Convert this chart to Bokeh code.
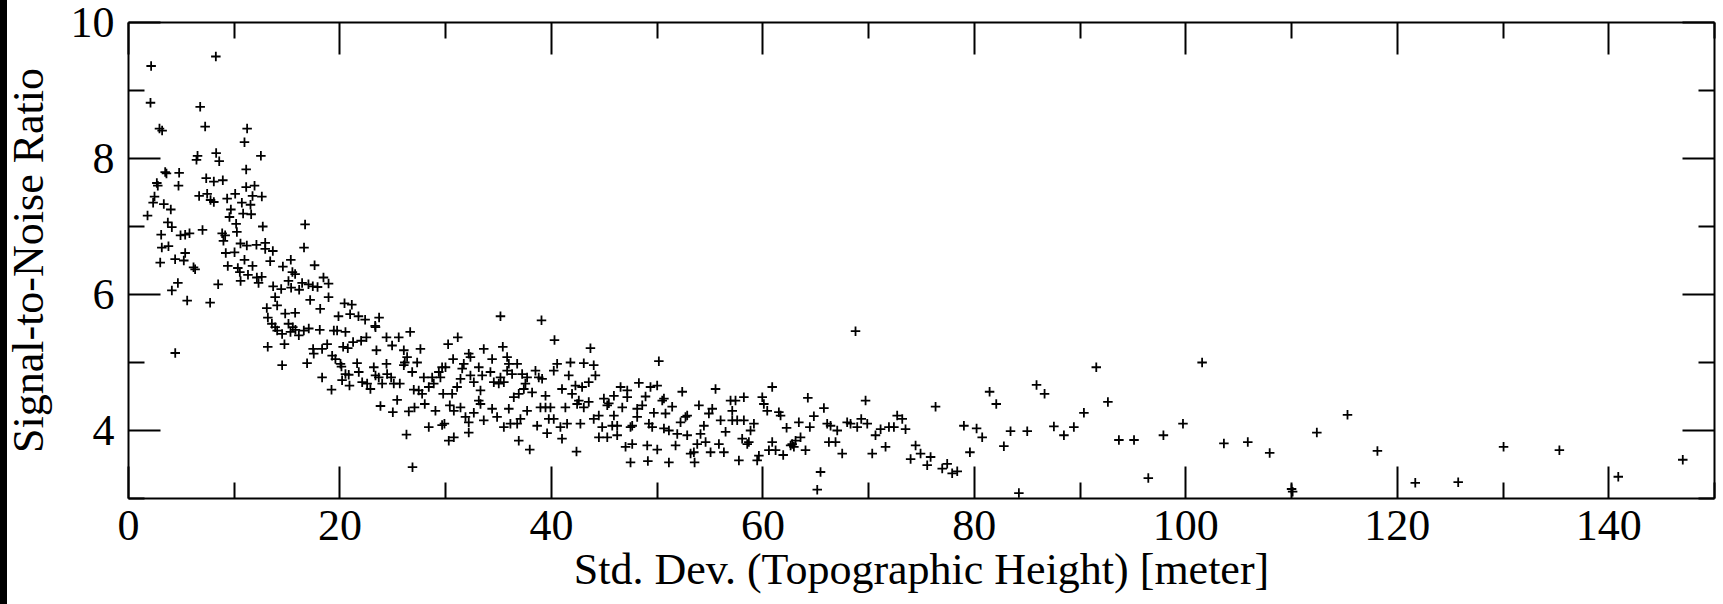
from bokeh.plotting import figure
from bokeh.models import Range1d, LinearAxis, FixedTicker, ColumnDataSource
from bokeh.embed import file_html
from bokeh.resources import INLINE

# ---- data: (std. dev. of topographic height [m], signal-to-noise ratio) ----
pts_steep = [
    (2.14, 9.36), (8.26, 9.50), (2.08, 8.82), (6.78, 8.76), (2.93, 8.44), (3.18, 8.41),
    (7.25, 8.47), (11.22, 8.44), (10.97, 8.24), (12.52, 8.04), (6.53, 8.04), (6.43, 7.98),
    (8.29, 8.08), (8.58, 7.96), (11.13, 7.84), (3.47, 7.80), (3.59, 7.78), (4.79, 7.79),
    (7.35, 7.71), (8.07, 7.66), (8.92, 7.68), (2.68, 7.64), (2.77, 7.60), (4.73, 7.60),
    (11.13, 7.58), (11.92, 7.60), (11.73, 7.45), (12.61, 7.44), (2.46, 7.44), (2.33, 7.35),
    (3.34, 7.33), (4.00, 7.25), (1.80, 7.16), (6.68, 7.45), (7.44, 7.48), (7.76, 7.39),
    (8.07, 7.36), (9.33, 7.41), (10.09, 7.48), (10.72, 7.35), (11.54, 7.32), (9.68, 7.25),
    (9.55, 7.14), (10.84, 7.19), (11.60, 7.18), (10.18, 7.04), (10.25, 6.92), (12.70, 7.00),
    (16.70, 7.03), (16.60, 6.69), (3.72, 7.06), (4.10, 6.99), (3.09, 6.88), (3.15, 6.69),
    (3.78, 6.71), (4.92, 6.87), (5.36, 6.88), (5.77, 6.90), (7.00, 6.95), (8.86, 6.90),
    (9.14, 6.87), (8.98, 6.79), (10.59, 6.75), (11.19, 6.72), (12.10, 6.73), (12.93, 6.76),
    (12.93, 6.67), (13.65, 6.64), (9.20, 6.61), (10.03, 6.62), (3.00, 6.47), (4.41, 6.52),
    (5.36, 6.61), (5.23, 6.50), (6.15, 6.40), (6.30, 6.37), (10.97, 6.51), (11.73, 6.42),
    (9.39, 6.42), (10.34, 6.39), (10.53, 6.33), (13.40, 6.49), (14.60, 6.41), (15.35, 6.51),
    (17.60, 6.43), (15.50, 6.33), (15.76, 6.30), (4.67, 6.17), (4.10, 6.06), (8.48, 6.15),
    (10.60, 6.20), (11.30, 6.29), (12.14, 6.25), (12.30, 6.17), (12.60, 6.26), (13.68, 6.12),
    (14.44, 6.08), (15.13, 6.20), (15.38, 6.10), (16.14, 6.07), (16.42, 6.17), (17.02, 6.15),
    (17.43, 6.12), (17.88, 6.11), (18.44, 6.25), (18.92, 6.16), (5.55, 5.91), (7.72, 5.88),
    (13.87, 5.96), (14.06, 5.84), (13.08, 5.80), (14.82, 5.72), (15.76, 5.73), (17.18, 5.92),
    (18.13, 5.79), (18.92, 5.96), (20.43, 5.87), (21.12, 5.85), (19.86, 5.68), (20.96, 5.71),
    (21.75, 5.68), (22.38, 5.63), (23.33, 5.54), (23.70, 5.66), (13.18, 5.66), (13.56, 5.57),
    (13.87, 5.52), (15.13, 5.57), (15.54, 5.52), (4.42, 5.14),
]

pts_moderate = [
    (35.18, 5.68), (39.06, 5.62), (40.29, 5.33), (43.69, 5.21), (26.64, 5.45), (25.56, 5.37),
    (24.40, 5.37), (13.17, 5.23), (14.75, 5.27), (14.53, 4.96), (16.89, 4.99), (17.46, 5.20),
    (17.52, 5.13), (18.31, 5.20), (18.31, 4.78), (19.20, 4.60), (18.79, 5.27), (19.26, 5.10),
    (19.57, 5.05), (20.05, 4.98), (20.14, 4.94), (20.30, 5.23), (20.74, 5.21), (21.24, 5.30),
    (22.00, 5.32), (22.50, 5.37), (20.52, 4.83), (20.83, 4.82), (20.20, 4.74), (20.90, 4.66),
    (21.62, 4.99), (21.78, 4.86), (22.10, 4.71), (22.57, 4.69), (22.88, 4.61), (23.36, 4.81),
    (23.20, 4.93), (23.67, 4.78), (23.99, 4.69), (24.40, 4.98), (24.46, 4.83), (24.84, 4.78),
    (25.09, 4.69), (25.66, 4.69), (25.41, 4.45), (23.45, 5.18), (24.93, 5.25), (26.04, 5.18),
    (26.35, 5.08), (26.13, 5.00), (26.04, 4.96), (26.83, 4.86), (27.30, 5.00), (27.61, 5.20),
    (23.83, 4.36), (25.00, 4.27), (26.51, 4.28), (27.05, 4.34), (26.29, 3.94), (26.86, 3.46),
    (26.98, 4.60), (27.45, 4.59), (27.77, 4.54), (27.93, 4.78), (28.40, 4.64), (28.72, 4.78),
    (28.87, 4.69), (28.02, 4.39), (28.40, 4.05), (29.03, 4.29), (29.66, 4.08), (29.88, 4.10),
    (29.35, 4.86), (29.66, 4.93), (29.98, 4.93), (29.50, 4.78), (29.76, 4.54), (30.61, 4.54),
    (30.70, 5.05), (30.23, 5.27), (31.14, 5.37), (30.39, 4.37), (30.77, 4.29), (31.40, 4.34),
    (31.08, 4.64), (31.40, 4.76), (31.56, 4.91), (31.71, 4.98), (30.29, 3.85), (30.77, 3.90),
    (31.87, 4.20), (32.18, 4.12), (32.18, 3.97), (32.66, 4.26), (33.13, 4.44), (32.18, 5.13),
    (32.34, 5.08), (32.34, 4.81), (32.66, 4.71), (33.13, 4.93), (33.29, 4.59), (33.45, 4.81),
    (33.60, 5.20), (34.39, 5.05), (34.23, 4.86), (34.55, 4.71), (35.02, 4.69), (35.18, 4.78),
    (35.50, 4.71), (35.40, 5.23), (35.81, 5.08), (35.81, 4.88), (35.97, 4.98), (33.29, 4.39),
    (33.60, 4.15), (34.39, 4.32), (34.86, 4.20), (35.50, 4.05), (36.12, 4.10), (36.76, 4.10),
    (37.07, 4.17), (35.97, 4.32), (36.44, 4.49), (36.91, 4.54), (37.39, 4.61), (36.91, 3.85),
    (37.95, 3.72), (36.28, 4.83), (36.76, 4.98), (37.23, 4.83), (37.54, 4.69), (37.70, 4.78),
    (38.17, 4.56), (38.49, 4.88), (38.80, 4.78), (39.12, 4.76), (39.44, 4.51), (37.70, 4.29),
    (38.65, 4.07), (38.96, 4.34), (39.44, 4.34), (39.91, 4.34), (39.59, 3.96), (39.75, 4.17),
    (40.22, 4.88), (40.54, 4.98), (41.80, 5.00), (43.06, 4.99), (44.00, 4.96), (40.22, 4.17),
    (40.85, 4.05), (41.00, 3.88), (41.32, 4.34), (41.48, 4.10), (41.95, 4.54), (42.27, 4.66),
    (42.43, 4.39), (42.59, 4.44), (42.74, 4.10), (43.06, 4.34), (43.53, 4.42), (44.00, 4.17),
    (44.48, 4.22), (42.37, 3.69), (41.00, 4.61), (41.64, 4.81), (42.90, 4.64), (43.53, 4.71),
    (44.16, 4.81), (15.79, 5.48), (16.11, 5.40), (17.05, 5.50), (18.09, 5.48), (19.42, 5.47),
    (23.36, 5.52), (14.06, 5.47), (14.53, 5.42), (15.32, 5.45), (16.58, 5.47), (19.73, 5.47),
    (20.52, 5.45),
]

pts_gentle = [
    (44.96, 4.47), (45.28, 4.37), (45.43, 4.40), (45.91, 4.51), (46.54, 4.64), (47.17, 4.59),
    (47.17, 4.49), (46.70, 4.34), (45.91, 4.22), (45.75, 4.07), (46.22, 4.07), (46.22, 3.93),
    (44.80, 4.05), (44.49, 3.90), (45.28, 3.90), (48.27, 4.70), (48.90, 4.50), (49.37, 4.64),
    (50.00, 4.66), (50.16, 5.02), (48.11, 4.32), (48.59, 4.37), (48.11, 4.20), (47.48, 4.05),
    (47.64, 4.07), (47.01, 3.76), (47.64, 3.80), (47.48, 3.53), (49.06, 3.78), (49.12, 3.55),
    (50.01, 3.72), (51.11, 3.53), (49.22, 4.10), (49.53, 4.05), (49.69, 4.26), (50.48, 4.44),
    (50.64, 4.47), (50.79, 4.25), (50.64, 4.03), (51.11, 4.00), (51.42, 4.35), (51.74, 3.78),
    (51.90, 3.95), (52.37, 4.57), (52.21, 4.12), (52.84, 4.22), (52.68, 4.20), (52.84, 3.93),
    (53.16, 3.66), (53.47, 3.68), (53.54, 3.53), (53.79, 3.80), (54.10, 3.95), (54.42, 4.07),
    (54.58, 3.83), (53.95, 4.37), (54.89, 4.25), (55.21, 4.32), (55.52, 4.61), (55.05, 3.68),
    (55.84, 3.80), (56.00, 4.15), (56.31, 3.68), (56.47, 3.98), (56.94, 4.44), (57.41, 4.44),
    (57.10, 4.29), (57.10, 4.15), (57.57, 4.15), (57.73, 3.56), (58.20, 4.49), (58.04, 3.88),
    (58.52, 3.80), (58.20, 4.15), (58.83, 4.00), (59.15, 4.10), (58.67, 3.83), (59.46, 3.56),
    (59.62, 3.63), (59.94, 4.49), (60.09, 4.39), (60.41, 4.29), (60.88, 4.64), (60.57, 3.71),
    (60.88, 3.83), (61.20, 3.71), (61.51, 4.27), (61.67, 4.22), (61.92, 3.64), (62.24, 4.04),
    (62.62, 3.78), (62.77, 3.80), (62.93, 3.76), (63.09, 3.85), (63.40, 4.12), (63.56, 3.90),
    (64.03, 3.71), (64.25, 4.48), (64.44, 4.05), (64.82, 4.21), (65.45, 3.39), (65.14, 3.13),
    (65.77, 4.33), (66.08, 4.10), (66.24, 3.83), (66.40, 4.07), (66.87, 3.83), (67.03, 4.00),
    (67.50, 3.66), (67.97, 4.12), (68.29, 4.10), (68.76, 5.46), (68.92, 4.05), (69.30, 4.17),
    (69.71, 4.44), (69.87, 4.10), (70.34, 3.66), (70.65, 3.93), (71.13, 4.02), (71.60, 3.76),
    (71.92, 4.05), (72.39, 4.05), (72.70, 4.22), (73.18, 4.17), (73.49, 4.02), (74.44, 3.78),
    (73.97, 3.58), (74.91, 3.66), (75.54, 3.49), (75.86, 3.61), (76.33, 4.35), (76.96, 3.44),
    (77.43, 3.51), (77.90, 3.37), (78.38, 3.40), (79.01, 4.07), (79.58, 3.68), (80.21, 4.03),
    (80.74, 3.90), (81.44, 4.57), (82.07, 4.39), (82.79, 3.77), (83.42, 3.99), (84.21, 3.08),
    (85.00, 3.99), (85.88, 4.67), (86.64, 4.54), (87.52, 4.06), (88.47, 3.93), (89.41, 4.05),
    (90.36, 4.26), (91.53, 4.93), (92.63, 4.42), (93.67, 3.86),
]

pts_rugged = [
    (95.10, 3.86), (96.45, 3.30), (97.88, 3.93), (99.73, 4.10), (101.54, 5.00), (103.60, 3.81),
    (105.86, 3.83), (107.93, 3.67), (110.10, 3.10), (110.00, 3.14), (112.39, 3.97), (115.29, 4.23),
    (118.12, 3.70), (121.70, 3.23), (125.76, 3.24), (130.05, 3.76), (135.33, 3.71), (140.90, 3.32),
    (147.00, 3.57),
]

x_ticks = [0, 20, 40, 60, 80, 100, 120, 140]
x_minor = [10, 30, 50, 70, 90, 110, 130, 150]
y_ticks = [4, 6, 8, 10]
y_minor = [3, 5, 7, 9]
x_title = "Std. Dev. (Topographic Height) [meter]"
y_title = "Signal-to-Noise Ratio"

all_pts = pts_steep + pts_moderate + pts_gentle + pts_rugged
src = ColumnDataSource(data=dict(x=[q[0] for q in all_pts], y=[q[1] for q in all_pts]))

FONT = "Liberation Serif"

p = figure(width=1723, height=604, x_range=Range1d(0, 150), y_range=Range1d(3, 10),
           output_backend="svg", toolbar_location=None,
           x_axis_location=None, y_axis_location=None,
           min_border_left=128, min_border_right=9, min_border_top=22, min_border_bottom=106,
           margin=0,
           styles={"background": "linear-gradient(to right, #000 0px, #000 7px, #fff 7px, #fff 100%)"})
p.outline_line_color = None
p.background_fill_color = "white"
p.border_fill_color = None
for g in p.grid:
    g.visible = False


def style(ax, ticks, minor, labels):
    ax.ticker = FixedTicker(ticks=ticks, minor_ticks=minor)
    ax.axis_line_color = "black"
    ax.axis_line_width = 2
    ax.major_tick_line_color = "black"
    ax.minor_tick_line_color = "black"
    ax.major_tick_line_width = 2
    ax.minor_tick_line_width = 2
    ax.major_tick_in = 32
    ax.major_tick_out = 0
    ax.minor_tick_in = 16
    ax.minor_tick_out = 0
    ax.major_label_text_font = FONT
    ax.major_label_text_color = "black"
    ax.axis_label_text_font = FONT
    ax.axis_label_text_font_style = "normal"
    ax.axis_label_text_color = "black"
    if labels:
        ax.major_label_text_font_size = "44px"
        ax.axis_label_text_font_size = "44px"
    else:
        ax.major_label_overrides = {t: "" for t in ticks}
        ax.major_label_text_font_size = "2px"
        ax.major_label_standoff = 0


bottom = LinearAxis(axis_label=x_title)
style(bottom, x_ticks, x_minor, True)
bottom.major_label_standoff = 12
bottom.axis_label_standoff = 2
p.add_layout(bottom, "below")

left = LinearAxis(axis_label=y_title)
style(left, y_ticks, y_minor, True)
left.major_label_standoff = 14
left.axis_label_standoff = 15
p.add_layout(left, "left")

top = LinearAxis()
style(top, x_ticks, x_minor, False)
p.add_layout(top, "above")

right = LinearAxis()
style(right, y_ticks, y_minor, False)
p.add_layout(right, "right")

p.scatter("x", "y", source=src, marker="cross", size=9.5, line_color="black", line_width=1.8)

open("out.html", "w").write(file_html(p, INLINE))
